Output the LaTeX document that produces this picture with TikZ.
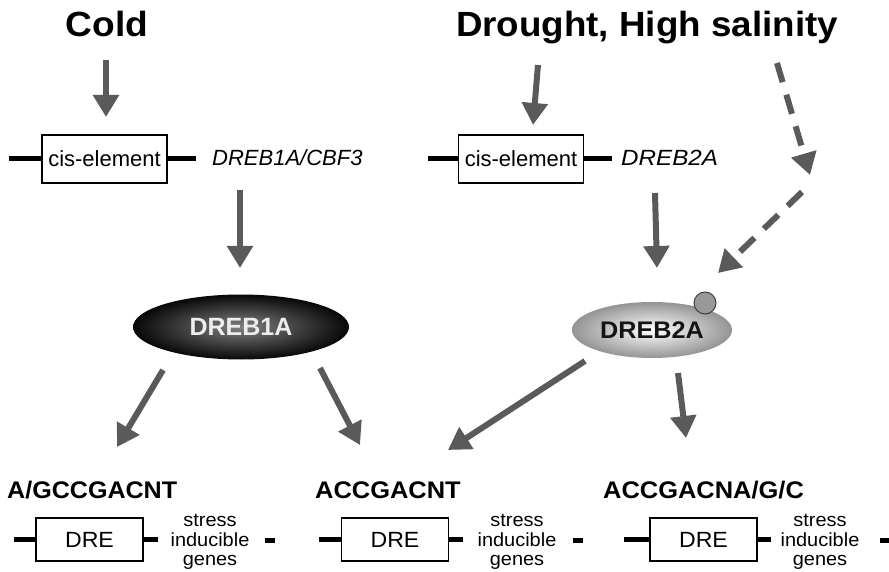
\documentclass[tikz,border=0pt]{standalone}
\usepackage{fontspec}
\setmainfont{Liberation Sans}
\usetikzlibrary{arrows.meta,shapes.geometric}
\definecolor{arr}{HTML}{5A5A5A}
\newcommand{\wide}[1]{\scalebox{1.05}[1]{#1}}
\begin{document}
\begin{tikzpicture}[x=1pt,y=-1pt,
  arrowline/.style={draw=arr, line width=6pt, -{Triangle[width=25pt,length=22pt]}},
  dashline/.style={arrowline, dash pattern=on 20pt off 13pt},
  stub/.style={draw=black, line width=5pt},
  cisbox/.style={draw=black, line width=1.2pt, minimum width=125pt, minimum height=48pt, inner sep=0pt, font=\fontsize{22}{24}\selectfont},
  drebox/.style={draw=black, line width=1.5pt, minimum width=107pt, minimum height=43pt, inner sep=0pt, font=\fontsize{22}{24}\selectfont},
  title/.style={font=\fontsize{35}{40}\selectfont\bfseries, anchor=base, inner sep=0pt},
  gene/.style={font=\fontsize{22}{24}\selectfont\itshape, anchor=base west, inner sep=0pt},
  seq/.style={font=\fontsize{24}{26}\selectfont\bfseries, anchor=base west, inner sep=0pt},
  stress/.style={font=\fontsize{19}{19.5}\selectfont, align=center, inner sep=0pt}
]
\useasboundingbox (0,0) rectangle (889,572);

% titles
\node[title] (cold) at (107,37) {\scalebox{1.06}[1]{Cold}};
\node[title] (drought) at (647,37) {\wide{Drought, High salinity}};

% cis-element boxes and genes
\node[cisbox] (cis1) at (104.5,159) {cis-element};
\draw[stub] (cis1.west) -- +(-32,0);
\draw[stub] (cis1.east) -- +(28,0);
\node[gene] (g1) at (212,166) {DREB1A/CBF3};

\node[cisbox] (cis2) at (521,159) {cis-element};
\draw[stub] (cis2.west) -- +(-30,0);
\draw[stub] (cis2.east) -- +(28,0);
\node[gene] (g2) at (621,166) {\scalebox{1.1}[1]{DREB2A}};

% proteins
\node[ellipse, minimum width=216pt, minimum height=65pt, inner sep=0pt,
      inner color=black!50, outer color=black!97,
      font=\fontsize{25}{27}\selectfont\bfseries, text=black!7] (e1) at (241,327) {DREB1A};
\node[ellipse, minimum width=160pt, minimum height=56pt, inner sep=0pt,
      inner color=white, outer color=black!42,
      font=\fontsize{24}{26}\selectfont\bfseries, text=black!92] (e2) at (652,330) {\wide{DREB2A}};
\node[circle, minimum size=22pt, inner sep=0pt, fill=black!40, draw=black!75, line width=1pt] (p) at (705,303) {};

% arrow coordinates
\coordinate (a1) at (106,60);   \coordinate (b1) at (106,117);
\coordinate (a2) at (538,65);   \coordinate (b2) at (533,125);
\coordinate (a3) at (240,190);  \coordinate (b3) at (240,268);
\coordinate (a4) at (655,193);  \coordinate (b4) at (657,268);
\coordinate (a5) at (777,63);   \coordinate (b5) at (810,175);
\coordinate (a6) at (802,192);  \coordinate (b6) at (718,273);
\coordinate (a7) at (163,370);  \coordinate (b7) at (117,447);
\coordinate (a8) at (320,368);  \coordinate (b8) at (360,445);
\coordinate (a9) at (585,361);  \coordinate (b9) at (448,450);
\coordinate (a10) at (678,373); \coordinate (b10) at (686,438);

\draw[arrowline] (a1) -- (b1);
\draw[arrowline] (a2) -- (b2);
\draw[arrowline] (a3) -- (b3);
\draw[arrowline] (a4) -- (b4);
\draw[dashline] (a5) -- (b5);
\draw[dashline] (a6) -- (b6);
\draw[arrowline] (a7) -- (b7);
\draw[arrowline] (a8) -- (b8);
\draw[arrowline] (a9) -- (b9);
\draw[arrowline] (a10) -- (b10);

% bottom sequences
\node[seq] (s1) at (7,498) {\scalebox{1.045}[1]{A/GCCGACNT}};
\node[seq] (s2) at (315,498) {\scalebox{1.06}[1]{ACCGACNT}};
\node[seq] (s3) at (603,498) {\scalebox{1.06}[1]{ACCGACNA/G/C}};

% DRE boxes
\node[drebox] (d1) at (89.5,539.5) {\wide{DRE}};
\draw[stub] (d1.west) -- +(-21,0);
\draw[stub] (d1.east) -- +(14,0);
\node[stress] (t1) at (210,542) {\wide{stress}\\\wide{inducible}\\\wide{genes}};
\coordinate (m1) at (265,540);
\draw[stub] (m1) -- +(10,0);

\node[drebox] (d2) at (395,539.5) {\wide{DRE}};
\draw[stub] (d2.west) -- +(-22,0);
\draw[stub] (d2.east) -- +(14,0);
\node[stress] (t2) at (517,542) {\wide{stress}\\\wide{inducible}\\\wide{genes}};
\coordinate (m2) at (573,540);
\draw[stub] (m2) -- +(10,0);

\node[drebox] (d3) at (703.5,539.5) {\wide{DRE}};
\draw[stub] (d3.west) -- +(-25,0);
\draw[stub] (d3.east) -- +(13,0);
\node[stress] (t3) at (820,542) {\wide{stress}\\\wide{inducible}\\\wide{genes}};
\coordinate (m3) at (880,540);
\draw[stub] (m3) -- +(9,0);
\end{tikzpicture}
\end{document}
